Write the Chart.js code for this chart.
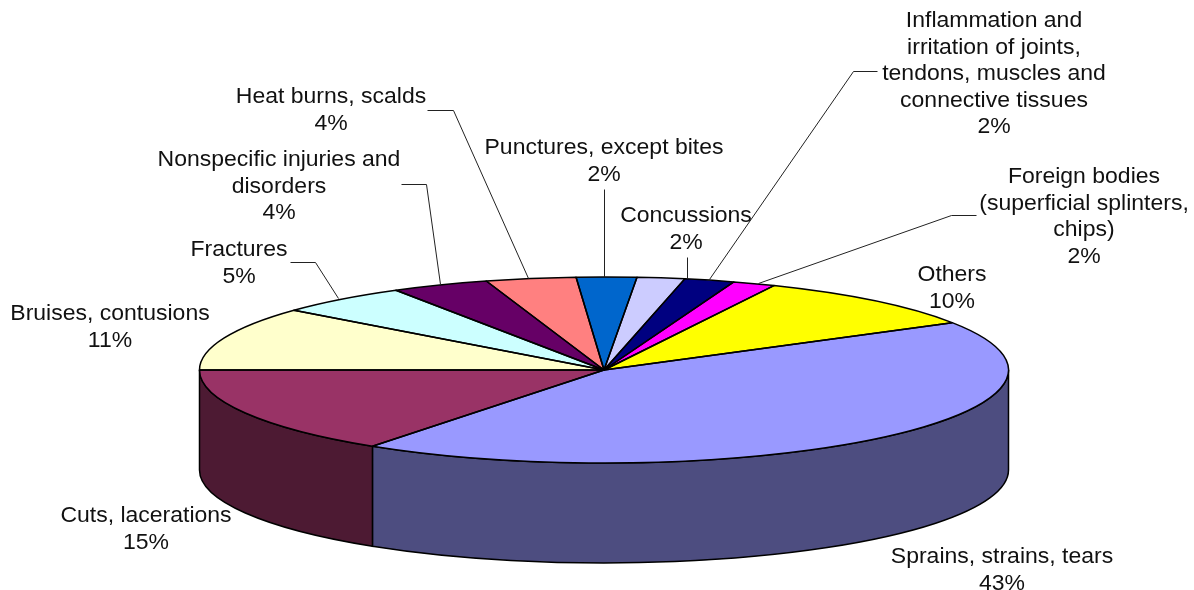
<!DOCTYPE html>
<html><head><meta charset="utf-8">
<style>html,body{margin:0;padding:0;background:#fff}canvas{display:block}</style>
<script src="https://cdn.jsdelivr.net/npm/chart.js@4"></script>
</head><body>
<canvas id="c" width="1194" height="590"></canvas>
<script>
// Data, in chart order, clockwise from the Sprains / Others boundary
const categories = ["Sprains, strains, tears","Cuts, lacerations","Bruises, contusions","Fractures","Nonspecific injuries and disorders","Heat burns, scalds","Punctures, except bites","Concussions","Inflammation and irritation of joints, tendons, muscles and connective tissues","Foreign bodies (superficial splinters, chips)","Others"];
const values = [43.2,15.3,11.1,5.3,3.9,3.6,2.4,1.9,2.0,1.7,9.6];
const colors = ["#9999FF","#993366","#FFFFCC","#CCFFFF","#660066","#FF8080","#0066CC","#CCCCFF","#000080","#FF00FF","#FFFF00"];
const sideColors = ["#4D4D80","#4D1A33","#80806A","#6A8080","#330033","#804040","#003366","#6A6A80","#000040","#800080","#808000"];
// Label text wrapped as in the picture
const labelLines = [["Sprains, strains, tears"],["Cuts, lacerations"],["Bruises, contusions"],["Fractures"],["Nonspecific injuries and","disorders"],["Heat burns, scalds"],["Punctures, except bites"],["Concussions"],["Inflammation and","irritation of joints,","tendons, muscles and","connective tissues"],["Foreign bodies","(superficial splinters,","chips)"],["Others"]];
// Layout only: label centre x, first line centre y; leader-line paths
const labelX = [1002,146,110,239,279,331,604,686,994,1084,952];
const labelY = [557,516,314,250,160,97,148,216,21,177,275];
const leaderPaths = [[],[],[],
  [[290,262],[315,262],[338,298]],
  [[401,184],[426,184],[440,284]],
  [[427,110],[453,110],[528,278]],
  [[604,189],[604,277]],
  [[687,257],[687,278]],
  [[877,71],[853,71],[709,279]],
  [[976,215],[951,215],[758,283]],
  []];
const geom = {cx:604, cy:370, rx:404.5, ry:93, depth:100, rotation:59.4, lineHeight:26.5, fontStretch:1.045, font:'22px "Liberation Sans", Arial, sans-serif'};

const pie3d = {
  id:'pie3d',
  beforeDatasetsDraw(chart){
    const ctx = chart.ctx, {cx,cy,rx,ry,depth} = geom;
    const arcs = chart.getDatasetMeta(0).data;
    arcs.forEach((a,i)=>{
      const s = a.startAngle, e = a.endAngle;
      // walk the visible front half (0..PI) in this slice's range
      for (const k of [-1,0,1]) {
        const lo = Math.max(s, k*2*Math.PI), hi = Math.min(e, k*2*Math.PI+Math.PI);
        if (hi <= lo) continue;
        ctx.beginPath();
        ctx.ellipse(cx,cy,rx,ry,0,lo,hi);
        ctx.ellipse(cx,cy+depth,rx,ry,0,hi,lo,true);
        ctx.closePath();
        ctx.fillStyle = sideColors[i]; ctx.fill();
        ctx.lineWidth = 1.5; ctx.strokeStyle = '#000'; ctx.stroke();
      }
    });
    const a0 = arcs[0];
    ctx.save();
    ctx.translate(cx,cy);
    ctx.scale(rx/a0.outerRadius, ry/a0.outerRadius);
    ctx.translate(-a0.x,-a0.y);
  },
  afterDatasetsDraw(chart){
    const ctx = chart.ctx, {cx,cy,rx,ry} = geom;
    ctx.restore();
    const arcs = chart.getDatasetMeta(0).data;
    ctx.lineWidth = 1.5; ctx.strokeStyle = '#000'; ctx.lineJoin='round';
    arcs.forEach(a=>{
      ctx.beginPath();
      ctx.moveTo(cx,cy);
      ctx.ellipse(cx,cy,rx,ry,0,a.startAngle,a.endAngle);
      ctx.closePath();
      ctx.stroke();
    });
    // leader lines
    ctx.lineWidth = 1; ctx.strokeStyle = '#222';
    leaderPaths.forEach(pts=>{
      if (!pts.length) return;
      ctx.beginPath();
      ctx.moveTo(pts[0][0]+.5,pts[0][1]+.5);
      pts.slice(1).forEach(p=>ctx.lineTo(p[0]+.5,p[1]+.5));
      ctx.stroke();
    });
    // labels
    const total = values.reduce((x,y)=>x+y,0);
    ctx.font = geom.font; ctx.fillStyle='#111'; ctx.textAlign='center'; ctx.textBaseline='middle';
    labelLines.forEach((lines,i)=>{
      const all = lines.concat([Math.round(values[i]/total*100)+'%']);
      all.forEach((t,j)=>{
        ctx.save();
        ctx.translate(labelX[i],labelY[i]+j*geom.lineHeight);
        ctx.scale(geom.fontStretch,1);
        ctx.fillText(t,0,0);
        ctx.restore();
      });
    });
  }
};

new Chart(document.getElementById('c'),{
  type:'pie',
  data:{labels:categories,datasets:[{data:values,backgroundColor:colors,borderWidth:0}]},
  options:{
    responsive:false,animation:false,rotation:geom.rotation,
    events:[],
    plugins:{legend:{display:false},tooltip:{enabled:false}}
  },
  plugins:[pie3d]
});
</script>
</body></html>
